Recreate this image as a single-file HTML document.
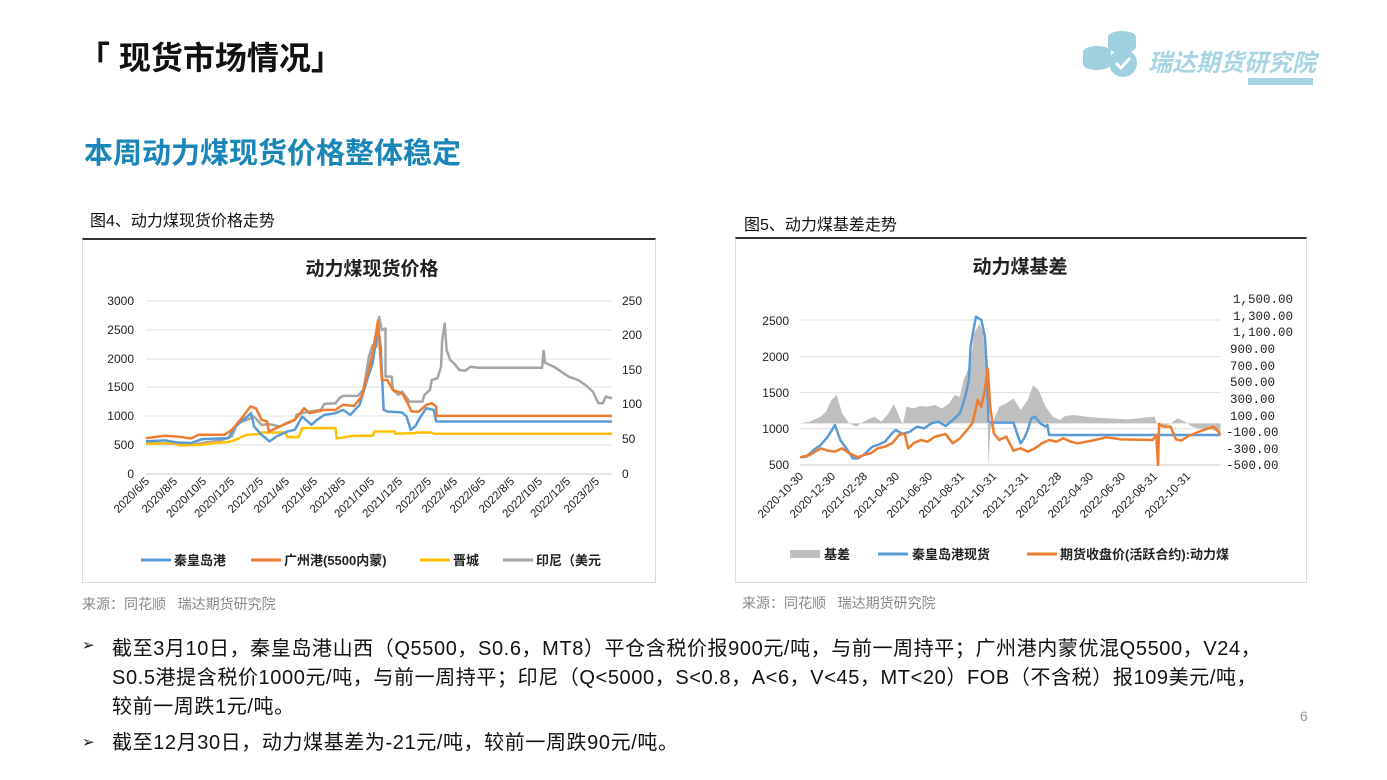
<!DOCTYPE html>
<html><head><meta charset="utf-8"><style>
body{margin:0;width:1387px;height:780px;background:#fff;overflow:hidden;position:relative;font-family:"Liberation Sans","Noto Sans CJK SC",sans-serif;}
.a{position:absolute;white-space:nowrap;}
</style></head><body>
<div class="a" style="left:78px;top:33px;font-size:32px;font-weight:bold;color:#111;">「 现货市场情况」</div>
<svg class="a" style="left:1075px;top:25px" width="80" height="55" viewBox="0 0 80 55">
<ellipse cx="47" cy="12" rx="14" ry="6" fill="#9fd0e0"/><rect x="33" y="12" width="28" height="10" fill="#9fd0e0"/><ellipse cx="47" cy="22" rx="14" ry="6" fill="#9fd0e0"/>
<ellipse cx="22" cy="27" rx="14" ry="6" fill="#9fd0e0"/><rect x="8" y="27" width="28" height="12" fill="#9fd0e0"/><ellipse cx="22" cy="39" rx="14" ry="6" fill="#9fd0e0"/>
<circle cx="48" cy="38" r="14" fill="#9fd0e0"/><path d="M41 38 l5 5 l9 -10" stroke="#fff" stroke-width="3" fill="none"/></svg>
<div class="a" style="left:1148px;top:43px;font-size:24px;font-weight:bold;font-style:italic;color:#a8d4e4;">瑞达期货研究院</div>
<div class="a" style="left:1248px;top:78px;width:65px;height:7px;background:#a8d4e4;"></div>
<div class="a" style="left:84px;top:130px;font-size:29px;font-weight:bold;color:#1a86b8;">本周动力煤现货价格整体稳定</div>
<div class="a" style="left:90px;top:207px;font-size:16px;color:#111;">图4、动力煤现货价格走势</div>
<div class="a" style="left:744px;top:211px;font-size:16px;color:#111;">图5、动力煤基差走势</div>
<div class="a" style="left:82px;top:238px;width:574px;height:345px;border-top:2px solid #333;border-left:1px solid #ddd;border-right:1px solid #ddd;border-bottom:1px solid #ddd;box-sizing:border-box;"></div>
<div class="a" style="left:735px;top:237px;width:572px;height:346px;border-top:2px solid #333;border-left:1px solid #ddd;border-right:1px solid #ddd;border-bottom:1px solid #ddd;box-sizing:border-box;"></div>
<div class="a" style="left:82px;top:594px;font-size:14px;color:#888;">来源：同花顺&nbsp;&nbsp;&nbsp;瑞达期货研究院</div>
<div class="a" style="left:742px;top:593px;font-size:14px;color:#888;">来源：同花顺&nbsp;&nbsp;&nbsp;瑞达期货研究院</div>

<svg class="a" style="left:0;top:0" width="1387" height="780" font-family="Liberation Sans,Noto Sans CJK SC,sans-serif">
<text x="372" y="275" font-size="19" font-weight="bold" text-anchor="middle" fill="#222">动力煤现货价格</text>
<g stroke="#e0e0e0" stroke-width="1">
<line x1="146" y1="301" x2="612" y2="301"/><line x1="146" y1="330" x2="612" y2="330"/><line x1="146" y1="359" x2="612" y2="359"/><line x1="146" y1="387" x2="612" y2="387"/><line x1="146" y1="416" x2="612" y2="416"/><line x1="146" y1="445" x2="612" y2="445"/></g>
<line x1="146" y1="474" x2="612" y2="474" stroke="#ccc"/>
<g font-size="12" fill="#222" text-anchor="end">
<text x="134" y="305">3000</text><text x="134" y="334">2500</text><text x="134" y="363">2000</text><text x="134" y="391">1500</text><text x="134" y="420">1000</text><text x="134" y="449">500</text><text x="134" y="478">0</text></g>
<g font-size="12" fill="#222">
<text x="622" y="305">250</text><text x="622" y="339">200</text><text x="622" y="374">150</text><text x="622" y="408">100</text><text x="622" y="443">50</text><text x="622" y="478">0</text></g>
<g font-size="11.5" fill="#222" text-anchor="end">
<text transform="translate(150,482) rotate(-45)">2020/6/5</text>
<text transform="translate(178,482) rotate(-45)">2020/8/5</text>
<text transform="translate(207,482) rotate(-45)">2020/10/5</text>
<text transform="translate(235,482) rotate(-45)">2020/12/5</text>
<text transform="translate(264,482) rotate(-45)">2021/2/5</text>
<text transform="translate(290,482) rotate(-45)">2021/4/5</text>
<text transform="translate(318,482) rotate(-45)">2021/6/5</text>
<text transform="translate(346,482) rotate(-45)">2021/8/5</text>
<text transform="translate(375,482) rotate(-45)">2021/10/5</text>
<text transform="translate(403,482) rotate(-45)">2021/12/5</text>
<text transform="translate(432,482) rotate(-45)">2022/2/5</text>
<text transform="translate(458,482) rotate(-45)">2022/4/5</text>
<text transform="translate(486,482) rotate(-45)">2022/6/5</text>
<text transform="translate(515,482) rotate(-45)">2022/8/5</text>
<text transform="translate(543,482) rotate(-45)">2022/10/5</text>
<text transform="translate(571,482) rotate(-45)">2022/12/5</text>
<text transform="translate(600,482) rotate(-45)">2023/2/5</text></g>
<g transform="matrix(0.3702,0,0,0.332,80.1,280.4)" fill="none" stroke-linejoin="round">
<polyline vector-effect="non-scaling-stroke" stroke="#a5a5a5" stroke-width="2.5" points="178,490 250,492 275,496 310,494 340,488 380,482 410,470 425,430 450,420 470,410 490,435 510,433 540,440 560,428 580,420 585,405 600,400 620,395 650,390 660,372 690,370 700,355 710,348 750,348 765,330 770,300 780,230 790,195 800,200 808,110 815,150 825,145 825,290 842,290 845,330 860,345 870,335 880,350 890,365 925,365 930,345 945,330 950,300 965,295 975,260 978,180 985,130 990,210 1000,240 1010,250 1025,270 1040,272 1055,260 1075,263 1248,263 1252,212 1256,248 1280,260 1300,275 1320,290 1345,300 1365,315 1385,335 1400,370 1412,370 1420,350 1437,355"/>
<polyline vector-effect="non-scaling-stroke" stroke="#ffc000" stroke-width="2.5" points="178,492 250,490 270,497 330,495 360,490 400,487 420,480 450,465 480,463 490,458 555,458 560,472 590,472 600,445 690,445 693,476 740,468 790,468 795,455 850,455 852,462 905,460 910,458 950,458 955,462 1437,462"/>
<polyline vector-effect="non-scaling-stroke" stroke="#5b9bd5" stroke-width="2.5" points="178,485 230,482 260,488 300,490 330,478 400,475 420,440 462,400 470,440 490,465 512,485 530,470 560,455 580,450 600,410 625,435 640,420 660,405 690,400 710,390 730,405 755,375 775,300 790,250 805,140 812,200 820,390 830,395 870,398 882,410 893,450 905,440 920,410 935,385 955,390 962,425 1437,425"/>
<polyline vector-effect="non-scaling-stroke" stroke="#ed7d31" stroke-width="2.5" points="178,475 230,468 260,470 300,476 320,465 390,465 410,450 440,410 460,380 475,385 490,420 505,425 510,455 530,445 560,430 580,420 605,385 620,400 660,390 690,390 710,375 740,378 760,350 775,290 790,220 805,120 815,300 830,300 845,330 870,340 885,370 895,395 915,395 935,375 950,370 962,380 963,408 1437,408"/>
</g>
<g font-size="13" fill="#222" font-weight="bold">
<line x1="141" y1="560" x2="171" y2="560" stroke="#5b9bd5" stroke-width="3"/><text x="174" y="565">秦皇岛港</text>
<line x1="251" y1="560" x2="281" y2="560" stroke="#ed7d31" stroke-width="3"/><text x="284" y="565">广州港(5500内蒙)</text>
<line x1="420" y1="560" x2="450" y2="560" stroke="#ffc000" stroke-width="3"/><text x="453" y="565">晋城</text>
<line x1="503" y1="560" x2="533" y2="560" stroke="#a5a5a5" stroke-width="3"/><text x="536" y="565">印尼（美元</text></g>

<text x="1020" y="273" font-size="19" font-weight="bold" text-anchor="middle" fill="#222">动力煤基差</text>
<g transform="matrix(0.357,0,0,0.3333,735,280)" fill="none" stroke-linejoin="round">
<g stroke="#e0e0e0"><line vector-effect="non-scaling-stroke" x1="182" y1="120" x2="1360" y2="120"/><line vector-effect="non-scaling-stroke" x1="182" y1="230" x2="1360" y2="230"/><line vector-effect="non-scaling-stroke" x1="182" y1="338" x2="1360" y2="338"/><line vector-effect="non-scaling-stroke" x1="182" y1="446" x2="1360" y2="446"/></g>
<line vector-effect="non-scaling-stroke" x1="182" y1="555" x2="1360" y2="555" stroke="#ccc"/>
<polygon fill="#bfbfbf" stroke="none" points="182,430 210,425 240,410 255,395 270,360 285,345 300,400 320,430 340,440 360,425 390,410 410,425 430,400 445,372 460,410 470,435 480,380 500,385 520,378 540,380 560,375 580,385 600,370 615,345 630,350 640,300 660,250 670,160 685,130 695,160 705,300 710,555 715,450 725,420 740,380 760,370 780,355 800,390 820,360 835,315 850,330 870,380 890,410 910,420 925,408 950,405 1000,412 1050,415 1100,418 1175,410 1185,440 1200,440 1220,430 1240,415 1260,425 1280,440 1300,445 1340,450 1360,460 1360,430"/>
<polyline vector-effect="non-scaling-stroke" stroke="#5b9bd5" stroke-width="2.5" points="182,532 200,530 220,510 240,495 260,470 280,435 295,480 315,510 330,535 345,535 360,525 385,500 400,495 420,485 440,460 450,450 470,462 490,455 510,440 530,445 550,430 570,425 590,438 610,420 630,400 645,350 655,300 660,200 668,150 675,110 690,120 700,170 705,260 710,425 720,428 780,428 790,460 800,490 810,475 820,450 830,415 840,410 855,430 870,440 875,435 880,465 1360,465"/>
<polyline vector-effect="non-scaling-stroke" stroke="#ed7d31" stroke-width="2.5" points="182,532 210,525 240,505 260,512 280,515 300,505 320,520 345,532 360,525 380,520 400,505 420,500 440,490 460,465 475,460 485,505 500,490 520,480 540,485 560,470 590,462 610,490 630,475 650,450 665,430 680,360 690,380 700,330 708,265 715,380 725,460 740,480 760,470 780,512 800,505 820,515 840,505 860,490 880,480 900,485 920,475 940,485 960,490 1000,482 1040,472 1080,478 1170,480 1180,465 1185,555 1188,432 1200,440 1220,440 1235,478 1250,482 1270,468 1300,455 1340,440 1350,450 1360,465"/>
</g>
<g font-size="12" fill="#222" text-anchor="end">
<text x="789" y="325">2500</text><text x="789" y="361">2000</text><text x="789" y="397">1500</text><text x="789" y="433">1000</text><text x="789" y="469">500</text></g>
<g font-size="12.5" fill="#222" font-family="Liberation Mono,monospace">
<text x="1233" y="303">1,500.00</text><text x="1233" y="320">1,300.00</text><text x="1233" y="336">1,100.00</text><text x="1230" y="353">900.00</text><text x="1230" y="370">700.00</text><text x="1230" y="386">500.00</text><text x="1230" y="403">300.00</text><text x="1230" y="420">100.00</text><text x="1226" y="436">-100.00</text><text x="1226" y="453">-300.00</text><text x="1226" y="469">-500.00</text></g>
<g font-size="11.5" fill="#222" text-anchor="end">
<text transform="translate(804,477) rotate(-45)">2020-10-30</text>
<text transform="translate(836,477) rotate(-45)">2020-12-30</text>
<text transform="translate(868,477) rotate(-45)">2021-02-28</text>
<text transform="translate(900,477) rotate(-45)">2021-04-30</text>
<text transform="translate(933,477) rotate(-45)">2021-06-30</text>
<text transform="translate(965,477) rotate(-45)">2021-08-31</text>
<text transform="translate(997,477) rotate(-45)">2021-10-31</text>
<text transform="translate(1029,477) rotate(-45)">2021-12-31</text>
<text transform="translate(1062,477) rotate(-45)">2022-02-28</text>
<text transform="translate(1094,477) rotate(-45)">2022-04-30</text>
<text transform="translate(1126,477) rotate(-45)">2022-06-30</text>
<text transform="translate(1158,477) rotate(-45)">2022-08-31</text>
<text transform="translate(1191,477) rotate(-45)">2022-10-31</text></g>
<g font-size="13" fill="#222" font-weight="bold">
<rect x="790" y="550" width="30" height="8" fill="#bfbfbf"/><text x="824" y="559">基差</text>
<line x1="878" y1="554" x2="908" y2="554" stroke="#5b9bd5" stroke-width="3"/><text x="912" y="559">秦皇岛港现货</text>
<line x1="1027" y1="554" x2="1057" y2="554" stroke="#ed7d31" stroke-width="3"/><text x="1060" y="559">期货收盘价(活跃合约):动力煤</text></g>
</svg>

<div class="a" style="left:82px;top:636px;font-size:15px;color:#111;">➢</div>
<div class="a" style="left:112px;top:635px;font-size:20px;letter-spacing:0.6px;line-height:29px;color:#111;">截至3月10日，秦皇岛港山西（Q5500，S0.6，MT8）平仓含税价报900元/吨，与前一周持平；广州港内蒙优混Q5500，V24，<br>S0.5港提含税价1000元/吨，与前一周持平；印尼（Q&lt;5000，S&lt;0.8，A&lt;6，V&lt;45，MT&lt;20）FOB（不含税）报109美元/吨，<br>较前一周跌1元/吨。</div>
<div class="a" style="left:82px;top:733px;font-size:15px;color:#111;">➢</div>
<div class="a" style="left:112px;top:729px;font-size:20px;letter-spacing:0.6px;line-height:29px;color:#111;">截至12月30日，动力煤基差为-21元/吨，较前一周跌90元/吨。</div>
<div class="a" style="left:1300px;top:708px;font-size:14px;color:#999;">6</div>
</body></html>
